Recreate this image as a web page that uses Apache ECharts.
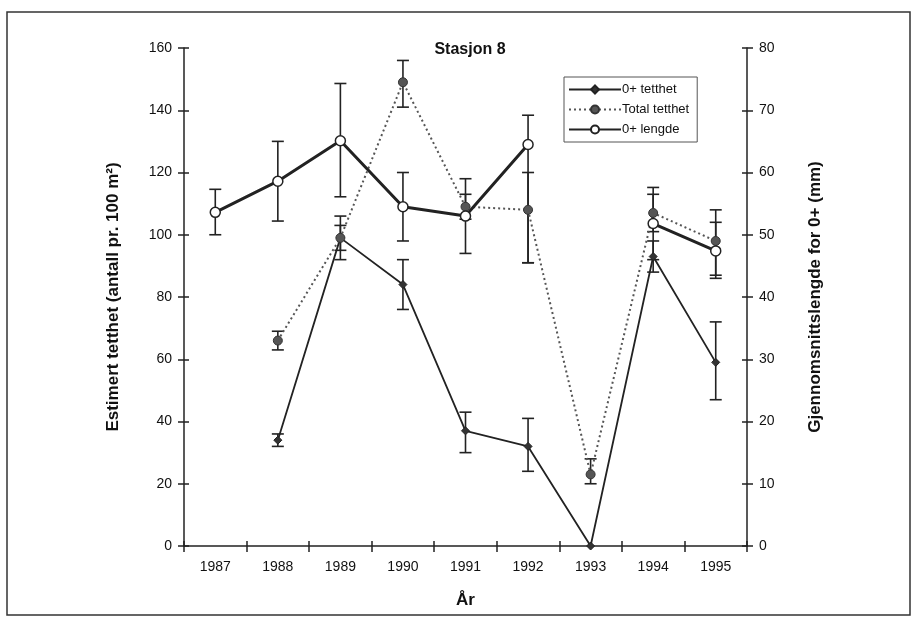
<!DOCTYPE html>
<html><head><meta charset="utf-8">
<script src="https://cdn.jsdelivr.net/npm/echarts@6/dist/echarts.min.js"></script>
<style>html,body{margin:0;padding:0;background:#fff}#c{width:915px;height:620px}</style>
</head><body><div id="c"></div>
<script>
const years = ['1987','1988','1989','1990','1991','1992','1993','1994','1995'];
const tetthet0 = [null,34,99,84,37,32,0,93,59];
const tetthet0Low = [null,32,92,76,30,24,null,88,47];
const tetthet0High = [null,36,106,92,43,41,null,98,72];
const totalTetthet = [null,66,99,149,109,108,23,107,98];
const totalLow = [null,63,95,141,105,91,20,101,87];
const totalHigh = [null,69,103,156,113,120,28,113,108];
const lengde0 = [53.6,58.6,65.1,54.5,53.0,64.5,null,51.8,47.4];
const lengdeLow = [50,52.2,56.1,49,47,45.5,null,46,43];
const lengdeHigh = [57.3,65,74.3,60,59,69.2,null,57.6,52];
const leftTicks = {min:0,max:160,interval:20};
const rightTicks = {min:0,max:80,interval:10};

function errData(lo, hi){
  const out=[];
  for(let i=0;i<lo.length;i++){ if(lo[i]!=null && hi[i]!=null) out.push([i,lo[i],hi[i]]); }
  return out;
}
function errSeries(lo, hi, yIdx){
  return {
    type:'custom', yAxisIndex:yIdx, silent:true, z:3,
    renderItem:function(params, api){
      const x=api.value(0);
      const p1=api.coord([x,api.value(1)]);
      const p2=api.coord([x,api.value(2)]);
      const w=6;
      const st={stroke:'#222',lineWidth:1.6};
      return {type:'group',children:[
        {type:'line',shape:{x1:p1[0],y1:p1[1],x2:p2[0],y2:p2[1]},style:st},
        {type:'line',shape:{x1:p1[0]-w,y1:p1[1],x2:p1[0]+w,y2:p1[1]},style:st},
        {type:'line',shape:{x1:p2[0]-w,y1:p2[1],x2:p2[0]+w,y2:p2[1]},style:st}
      ]};
    },
    encode:{x:0,y:[1,2]},
    data:errData(lo,hi)
  };
}
const font='Liberation Sans, Arial, sans-serif';
const nameStyle={fontFamily:font,fontWeight:'bold',fontSize:17,color:'#111'};
const labStyle={fontFamily:font,fontSize:14,color:'#111'};
const lineSt={color:'#222',width:1.5};
function innerTickY(pos, t){
  return {type:'value',position:pos,min:t.min,max:t.max,interval:t.interval,
    axisLine:{show:false},axisTick:{show:true,inside:true,length:5,lineStyle:lineSt},
    axisLabel:{show:false},splitLine:{show:false}};
}
const chart=echarts.init(document.getElementById('c'),null,{renderer:'canvas'});
chart.setOption({
  backgroundColor:'#fff',
  animation:false,
  graphic:[{type:'rect',shape:{x:7,y:12,width:903,height:603},style:{fill:'none',stroke:'#333',lineWidth:1.5},z:-1}],
  title:{text:'Stasjon 8',left:465,top:37,textAlign:'center',textStyle:{fontFamily:font,fontWeight:'bold',fontSize:16,color:'#111'}},
  legend:{
    orient:'vertical',left:564,top:77,itemWidth:52,itemHeight:10,itemGap:7,
    padding:[6,8,6,4],borderColor:'#555',borderWidth:1,backgroundColor:'#fff',
    textStyle:{fontFamily:font,fontSize:13,color:'#111',padding:[0,0,0,-4]},
    data:['0+ tetthet','Total tetthet','0+ lengde']
  },
  grid:{left:184,right:168,top:48,bottom:74},
  xAxis:[{
    type:'category',data:years,boundaryGap:true,
    name:'År',nameLocation:'middle',nameGap:46,
    nameTextStyle:nameStyle,
    axisLine:{lineStyle:lineSt},
    axisTick:{show:true,length:6,lineStyle:lineSt},
    axisLabel:Object.assign({margin:14},labStyle),
    splitLine:{show:false}
  },{
    type:'category',data:years,boundaryGap:true,position:'bottom',offset:0,
    axisLine:{show:false},axisTick:{show:true,inside:true,length:5,lineStyle:lineSt},
    axisLabel:{show:false},splitLine:{show:false}
  }],
  yAxis:[{
    type:'value',position:'left',min:leftTicks.min,max:leftTicks.max,interval:leftTicks.interval,
    name:'Estimert tetthet (antall pr. 100 m²)',nameLocation:'middle',nameGap:62,nameRotate:90,
    nameTextStyle:nameStyle,
    axisLine:{show:true,lineStyle:lineSt},
    axisTick:{show:true,length:6,lineStyle:lineSt},
    axisLabel:Object.assign({margin:12},labStyle),
    splitLine:{show:false}
  },{
    type:'value',position:'right',min:rightTicks.min,max:rightTicks.max,interval:rightTicks.interval,
    name:'Gjennomsnittslengde for 0+ (mm)',nameLocation:'middle',nameGap:60,nameRotate:90,
    nameTextStyle:nameStyle,
    axisLine:{show:true,lineStyle:lineSt},
    axisTick:{show:true,length:6,lineStyle:lineSt},
    axisLabel:Object.assign({margin:12},labStyle),
    splitLine:{show:false}
  },
  Object.assign(innerTickY('left',leftTicks),{offset:0}),
  Object.assign(innerTickY('right',rightTicks),{offset:0})
  ],
  series:[
    errSeries(tetthet0Low,tetthet0High,0),
    errSeries(totalLow,totalHigh,0),
    errSeries(lengdeLow,lengdeHigh,1),
    {name:'0+ tetthet',type:'line',yAxisIndex:0,data:tetthet0,connectNulls:false,
     symbol:'diamond',symbolSize:8,showAllSymbol:true,z:4,
     lineStyle:{color:'#222',width:1.8},itemStyle:{color:'#333',borderColor:'#222',borderWidth:1}},
    {name:'Total tetthet',type:'line',yAxisIndex:0,data:totalTetthet,
     symbol:'circle',symbolSize:9,showAllSymbol:true,z:4,
     lineStyle:{color:'#555',width:2,type:[2,3]},itemStyle:{color:'#555',borderColor:'#333',borderWidth:1}},
    {name:'0+ lengde',type:'line',yAxisIndex:1,data:lengde0,
     symbol:'circle',symbolSize:10,showAllSymbol:true,z:5,
     lineStyle:{color:'#222',width:3},itemStyle:{color:'#fff',borderColor:'#222',borderWidth:1.5}}
  ]
});
</script></body></html>
